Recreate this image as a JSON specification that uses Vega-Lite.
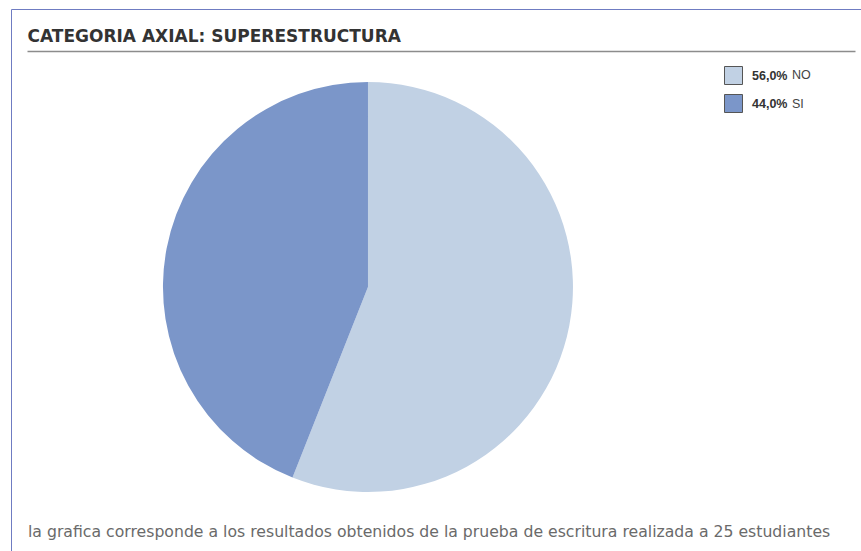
{
  "$schema": "https://vega.github.io/schema/vega-lite/v6.json",
  "width": 860,
  "height": 556,
  "autosize": "none",
  "padding": {"left": 11, "top": 9, "right": 0, "bottom": 0},
  "background": "#ffffff",
  "title": {
    "text": "la grafica corresponde a los resultados obtenidos de la prueba de escritura realizada a 25 estudiantes",
    "orient": "bottom",
    "anchor": "start",
    "frame": "group",
    "baseline": "alphabetic",
    "offset": -28,
    "dx": 17,
    "font": "DejaVu Sans",
    "fontSize": 15.7,
    "fontWeight": "normal",
    "color": "#6a6a6a"
  },
  "data": {
    "values": [
      {"categoria": "NO", "pct": "56,0%", "valor": 56, "orden": 1},
      {"categoria": "SI", "pct": "44,0%", "valor": 44, "orden": 2}
    ]
  },
  "mark": {"type": "arc", "outerRadius": 205},
  "encoding": {
    "theta": {"field": "valor", "type": "quantitative", "stack": true},
    "order": {"field": "orden", "type": "quantitative"},
    "color": {
      "field": "pct",
      "type": "nominal",
      "scale": {"domain": ["56,0%", "44,0%"], "range": ["#c1d1e4", "#7b96c9"]},
      "legend": {
        "orient": "none",
        "legendX": 713,
        "legendY": 57,
        "title": null,
        "padding": 0,
        "symbolType": "square",
        "symbolSize": 324,
        "symbolStrokeColor": "#555555",
        "symbolStrokeWidth": 1,
        "labelFont": "Liberation Sans",
        "labelFontWeight": "bold",
        "labelFontSize": 12.5,
        "labelColor": "#333333",
        "labelOffset": 9,
        "rowPadding": 5
      }
    },
    "opacity": {
      "field": "categoria",
      "type": "ordinal",
      "scale": {"domain": ["NO", "SI"], "range": [1, 1]},
      "legend": {
        "orient": "none",
        "legendX": 763,
        "legendY": 57,
        "title": null,
        "padding": 0,
        "symbolType": "square",
        "symbolSize": 324,
        "symbolFillColor": "transparent",
        "symbolStrokeColor": "transparent",
        "symbolOpacity": 0,
        "symbolStrokeWidth": 0,
        "labelFont": "Liberation Sans",
        "labelFontWeight": "normal",
        "labelFontSize": 12.5,
        "labelColor": "#444444",
        "labelOffset": 0,
        "rowPadding": 11,
        "encode": {"symbols": {"update": {"fill": {"value": "transparent"}, "stroke": {"value": "transparent"}, "opacity": {"value": 0}}}}
      }
    },
    "x": {
      "datum": 0.4118,
      "type": "quantitative",
      "scale": {"domain": [0, 1], "range": [16, 844]},
      "axis": {
        "orient": "top",
        "offset": -42,
        "title": "CATEGORIA AXIAL: SUPERESTRUCTURA",
        "titleAnchor": "start",
        "titleAlign": "left",
        "titleBaseline": "alphabetic",
        "titlePadding": 10,
        "titleFont": "DejaVu Sans",
        "titleFontSize": 17,
        "titleFontWeight": "bold",
        "titleColor": "#333333",
        "labels": false,
        "ticks": false,
        "grid": false,
        "domainColor": "#8c8c8c",
        "domainWidth": 1.5
      }
    },
    "y": {
      "datum": 0.5,
      "type": "quantitative",
      "scale": {"domain": [0, 1]},
      "axis": null
    }
  },
  "config": {
    "view": {"stroke": "#6f7cc2", "strokeWidth": 1}
  }
}
